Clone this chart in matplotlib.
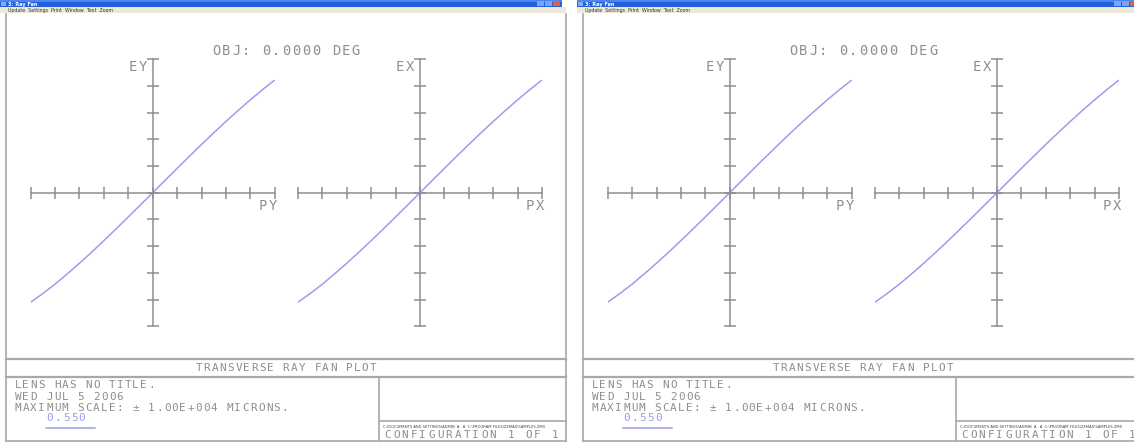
import numpy as np
import matplotlib
matplotlib.use("Agg")
import matplotlib.pyplot as plt
from matplotlib.patches import Rectangle
from matplotlib.lines import Line2D

# Relative pupil coordinate and transverse ray error (microns)
pupil = [-1.0, -0.9, -0.8, -0.7, -0.6, -0.5, -0.4, -0.3, -0.2, -0.1, 0.0,
         0.1, 0.2, 0.3, 0.4, 0.5, 0.6, 0.7, 0.8, 0.9, 1.0]
ey_tangential = [-8200, -7550, -6850, -6080, -5280, -4450, -3590, -2710, -1815, -910, 0,
                 913, 1822, 2723, 3611, 4483, 5333, 6158, 6954, 7716, 8440]
ex_sagittal = [-8200, -7550, -6850, -6080, -5280, -4450, -3590, -2710, -1815, -910, 0,
               913, 1822, 2723, 3611, 4483, 5333, 6158, 6954, 7716, 8440]
max_scale = 1.0e4
x_ticks = [-1.0, -0.8, -0.6, -0.4, -0.2, 0.0, 0.2, 0.4, 0.6, 0.8, 1.0]
y_ticks = [-1e4, -8e3, -6e3, -4e3, -2e3, 0, 2e3, 4e3, 6e3, 8e3, 1e4]

title_text = "OBJ: 0.0000 DEG"
plot_name = "TRANSVERSE RAY FAN PLOT"
info_lines = ["LENS HAS NO TITLE.", "WED JUL 5 2006",
              "MAXIMUM SCALE: \u00b1 1.00E+004 MICRONS."]
wavelength = "0.550"
file_line = "C:\\DOCUMENTS AND SETTINGS\\ADMIN  A   A  C:\\PROGRAM FILES\\ZEMAX\\SAMPLES.ZMX"
config_text = "CONFIGURATION 1 OF 1"
window_title = "3: Ray Fan"
menu_items = "Update  Settings  Print  Window  Text  Zoom"

W, H = 1134, 446
fig = plt.figure(figsize=(W / 100, H / 100), dpi=100)
fig.patch.set_facecolor("white")

GREY = "#8e8e8e"
FRAME = "#a8a8a8"
CURVE = "#9c9cf0"
MONO = "DejaVu Sans Mono"


def fx(x):
    return x / W


def fy(y):
    return 1 - y / H


def rect(x0, y0, x1, y1, **kw):
    fig.add_artist(Rectangle((fx(x0), fy(y1)), (x1 - x0) / W, (y1 - y0) / H,
                             transform=fig.transFigure, **kw))


def seg(x0, y0, x1, y1, color=FRAME, lw=1.2):
    fig.add_artist(Line2D([fx(x0), fx(x1)], [fy(y0), fy(y1)],
                          transform=fig.transFigure, color=color, lw=lw))


def plotter_text(x, baseline, s, pitch, size, color=GREY, ha="left"):
    """Fixed-pitch plotter lettering, one glyph per cell."""
    n = len(s)
    if ha == "center":
        x = x - n * pitch / 2
    elif ha == "right":
        x = x - n * pitch
    for i, ch in enumerate(s):
        if ch != " ":
            fig.text(fx(x + (i + 0.5) * pitch), fy(baseline), ch, ha="center",
                     va="baseline", fontsize=size, family=MONO, color=color)


def fan_axes(cx, cy, xs, ys, ylab, xlab):
    hw, hh = 122, 133.5
    ax = fig.add_axes([fx(cx - hw), fy(cy + hh), 2 * hw / W, 2 * hh / H])
    ax.set_xlim(-1, 1)
    ax.set_ylim(-max_scale, max_scale)
    ax.patch.set_alpha(0)
    for side in ("top", "right"):
        ax.spines[side].set_visible(False)
    for side in ("left", "bottom"):
        ax.spines[side].set_position(("data", 0))
        ax.spines[side].set_color(GREY)
        ax.spines[side].set_linewidth(1.1)
    ax.set_xticks(x_ticks)
    ax.set_yticks(y_ticks)
    ax.tick_params(direction="inout", length=8, width=1.1, color=GREY,
                   labelbottom=False, labelleft=False)
    ax.plot(xs, ys, color=CURVE, lw=1.1, solid_capstyle="butt")
    plotter_text(cx - 5, cy - hh + 12, ylab, 10, 9.9, ha="right")
    plotter_text(cx + hw + 3, cy + 17.5, xlab, 10, 9.9, ha="right")


def window(dx):
    # title bar and menu bar
    rect(dx + 0, 0, dx + 562, 7, facecolor="#2460dc", edgecolor="none")
    rect(dx + 0, 0, dx + 562, 1.5, facecolor="#4d84ee", edgecolor="none")
    rect(dx + 1, 1.5, dx + 5.5, 6, facecolor="#7fb0f5", edgecolor="none")
    fig.text(fx(dx + 8), fy(5.6), window_title, fontsize=3.6, color="white",
             weight="bold")
    for bx, c in ((537, "#7aa6f2"), (545, "#7aa6f2"), (553, "#e0603c")):
        rect(dx + bx, 1.2, dx + bx + 6.5, 6.3, facecolor=c, edgecolor="none")
    rect(dx + 0, 7, dx + 566, 13, facecolor="#ece9d8", edgecolor="none")
    fig.text(fx(dx + 8), fy(11.8), menu_items, fontsize=3.4, color="#333333")

    # plot frame
    seg(dx + 6, 14, dx + 6, 441)
    seg(dx + 566, 14, dx + 566, 441)
    seg(dx + 6, 441, dx + 566, 441)
    seg(dx + 6, 358.6, dx + 566, 358.6, lw=1.6)
    seg(dx + 6, 376.8, dx + 566, 376.8, lw=1.6)
    seg(dx + 379, 376.8, dx + 379, 441)
    seg(dx + 379, 421, dx + 566, 421)

    plotter_text(dx + 286, 55, title_text, 10, 9.9, ha="center")
    fan_axes(dx + 152.7, 192.7, pupil, ey_tangential, "EY", "PY")
    fan_axes(dx + 420, 192.7, pupil, ex_sagittal, "EX", "PX")

    plotter_text(dx + 286, 370.6, plot_name, 7.9, 7.9, ha="center")
    for i, line in enumerate(info_lines):
        plotter_text(dx + 14, 388.5 + i * 11.2, line, 7.85, 7.9)
    plotter_text(dx + 46, 421, wavelength, 8, 7.9, color=CURVE)
    seg(dx + 46, 427.5, dx + 95, 427.5, color=CURVE, lw=1.1)
    fig.text(fx(dx + 383), fy(428), file_line, fontsize=3.0, color="#444444",
             family="DejaVu Sans", stretch="condensed")
    plotter_text(dx + 383, 437.5, config_text, 8.8, 7.9)


for offset in (0, 577):
    window(offset)

fig.savefig("out.png", dpi=100)
